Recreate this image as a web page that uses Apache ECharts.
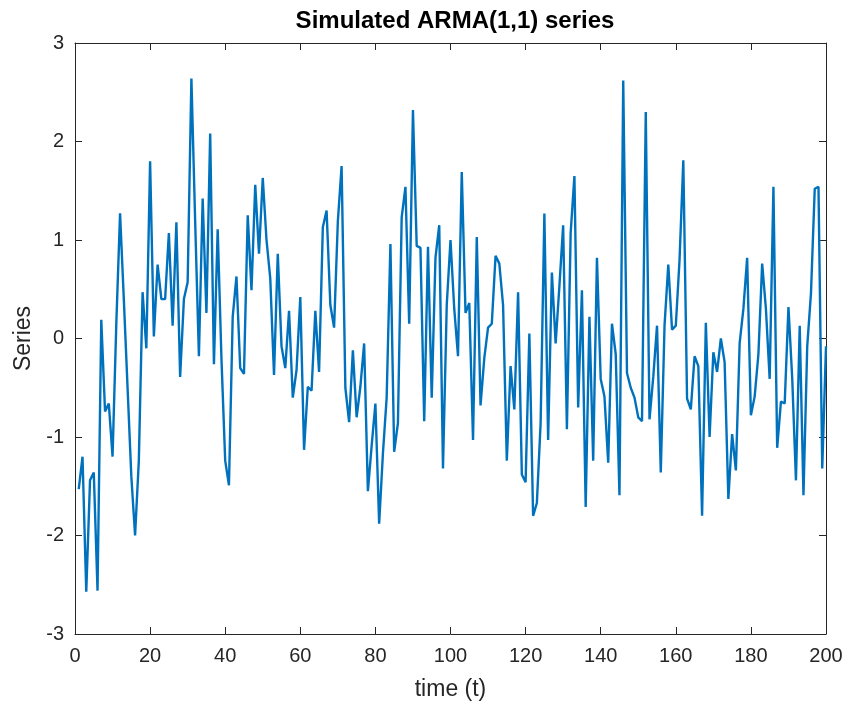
<!DOCTYPE html>
<html>
<head>
<meta charset="utf-8">
<script src="https://cdn.jsdelivr.net/npm/echarts@6/dist/echarts.min.js"></script>
<style>
  html, body { margin: 0; padding: 0; background: #fff; }
  #chart { width: 848px; height: 709px; }
</style>
</head>
<body>
<div id="chart"></div>
<script>
// simulated ARMA(1,1) values, t = 1..200
const series = [
  -1.53, -1.2, -2.57, -1.44, -1.36, -2.56, 0.19, -0.74, -0.66, -1.2,
  0.15, 1.27, 0.4, -0.5, -1.4, -2.0, -1.24, 0.47, -0.1, 1.8,
  0.02, 0.75, 0.4, 0.4, 1.07, 0.13, 1.18, -0.39, 0.4, 0.57,
  2.64, 1.19, -0.18, 1.42, 0.26, 2.08, -0.26, 1.11, -0.2, -1.24,
  -1.49, 0.22, 0.63, -0.3, -0.36, 1.25, 0.49, 1.56, 0.86, 1.63,
  1.0, 0.61, -0.37, 0.86, -0.08, -0.3, 0.28, -0.6, -0.32, 0.42,
  -1.13, -0.49, -0.53, 0.28, -0.34, 1.13, 1.3, 0.34, 0.11, 1.19,
  1.75, -0.5, -0.85, -0.12, -0.8, -0.49, -0.05, -1.55, -1.09, -0.66,
  -1.88, -1.17, -0.6, 0.96, -1.15, -0.86, 1.23, 1.54, 0.15, 2.32,
  0.94, 0.92, -0.84, 0.93, -0.6, 0.82, 1.15, -1.32, 0.34, 1.0,
  0.3, -0.18, 1.69, 0.26, 0.36, -1.03, 1.03, -0.68, -0.2, 0.11,
  0.15, 0.84, 0.76, 0.34, -1.24, -0.28, -0.72, 0.47, -1.38, -1.46,
  0.05, -1.8, -1.67, -0.86, 1.27, -1.03, 0.67, -0.05, 0.53, 1.15,
  -0.92, 1.07, 1.65, -0.7, 0.49, -1.71, 0.22, -1.24, 0.82, -0.41,
  -0.59, -1.26, 0.15, -0.16, -1.59, 2.62, -0.35, -0.5, -0.6, -0.8,
  -0.84, 2.3, -0.82, -0.39, 0.13, -1.36, 0.13, 0.75, 0.09, 0.13,
  0.8, 1.81, -0.61, -0.72, -0.18, -0.28, -1.8, 0.16, -1.0, -0.14,
  -0.34, 0.0, -0.24, -1.63, -0.97, -1.34, -0.05, 0.3, 0.82, -0.78,
  -0.59, -0.16, 0.76, 0.3, -0.41, 1.54, -1.11, -0.64, -0.66, 0.32,
  -0.4, -1.44, 0.13, -1.59, -0.08, 0.46, 1.52, 1.54, -1.32, -0.08
];
const xTicks = [0, 20, 40, 60, 80, 100, 120, 140, 160, 180, 200];
const yTicks = [-3, -2, -1, 0, 1, 2, 3];

const points = series.map((v, i) => [i + 1, v]);

const axisColor = '#262626';
const fontFamily = 'Liberation Sans, Arial, sans-serif';

const chart = echarts.init(document.getElementById('chart'));

const baseX = {
  type: 'value',
  min: xTicks[0],
  max: xTicks[xTicks.length - 1],
  interval: 20,
  splitLine: { show: false },
  axisLine: { show: true, onZero: false, lineStyle: { color: axisColor, width: 1 } },
  axisTick: { show: true, inside: true, length: 7, lineStyle: { color: axisColor } }
};
const baseY = {
  type: 'value',
  min: yTicks[0],
  max: yTicks[yTicks.length - 1],
  interval: 1,
  splitLine: { show: false },
  axisLine: { show: true, onZero: false, lineStyle: { color: axisColor, width: 1 } },
  axisTick: { show: true, inside: true, length: 7, lineStyle: { color: axisColor } }
};

chart.setOption({
  backgroundColor: '#fff',
  animation: false,
  title: {
    text: 'Simulated ARMA(1,1) series',
    left: 450,
    textAlign: 'center',
    top: 4,
    textStyle: { color: '#000', fontSize: 24, fontWeight: 'bold', fontFamily }
  },
  grid: { left: 75, right: 22, top: 43, bottom: 75 },
  xAxis: [
    {
      ...baseX,
      position: 'bottom',
      name: 'time (t)',
      nameLocation: 'middle',
      nameGap: 44,
      nameTextStyle: { color: axisColor, fontSize: 23, fontFamily },
      axisLabel: { color: axisColor, fontSize: 20, margin: 12, fontFamily }
    },
    { ...baseX, position: 'top', axisLabel: { show: false } }
  ],
  yAxis: [
    {
      ...baseY,
      position: 'left',
      name: 'Series',
      nameLocation: 'middle',
      nameGap: 40,
      nameTextStyle: { color: axisColor, fontSize: 23, fontFamily },
      axisLabel: { color: axisColor, fontSize: 20, margin: 11, fontFamily }
    },
    { ...baseY, position: 'right', axisLabel: { show: false } }
  ],
  series: [{
    type: 'line',
    data: points,
    xAxisIndex: 0,
    yAxisIndex: 0,
    showSymbol: false,
    lineStyle: { color: '#0072BD', width: 2.4 }
  }]
});
</script>
</body>
</html>
